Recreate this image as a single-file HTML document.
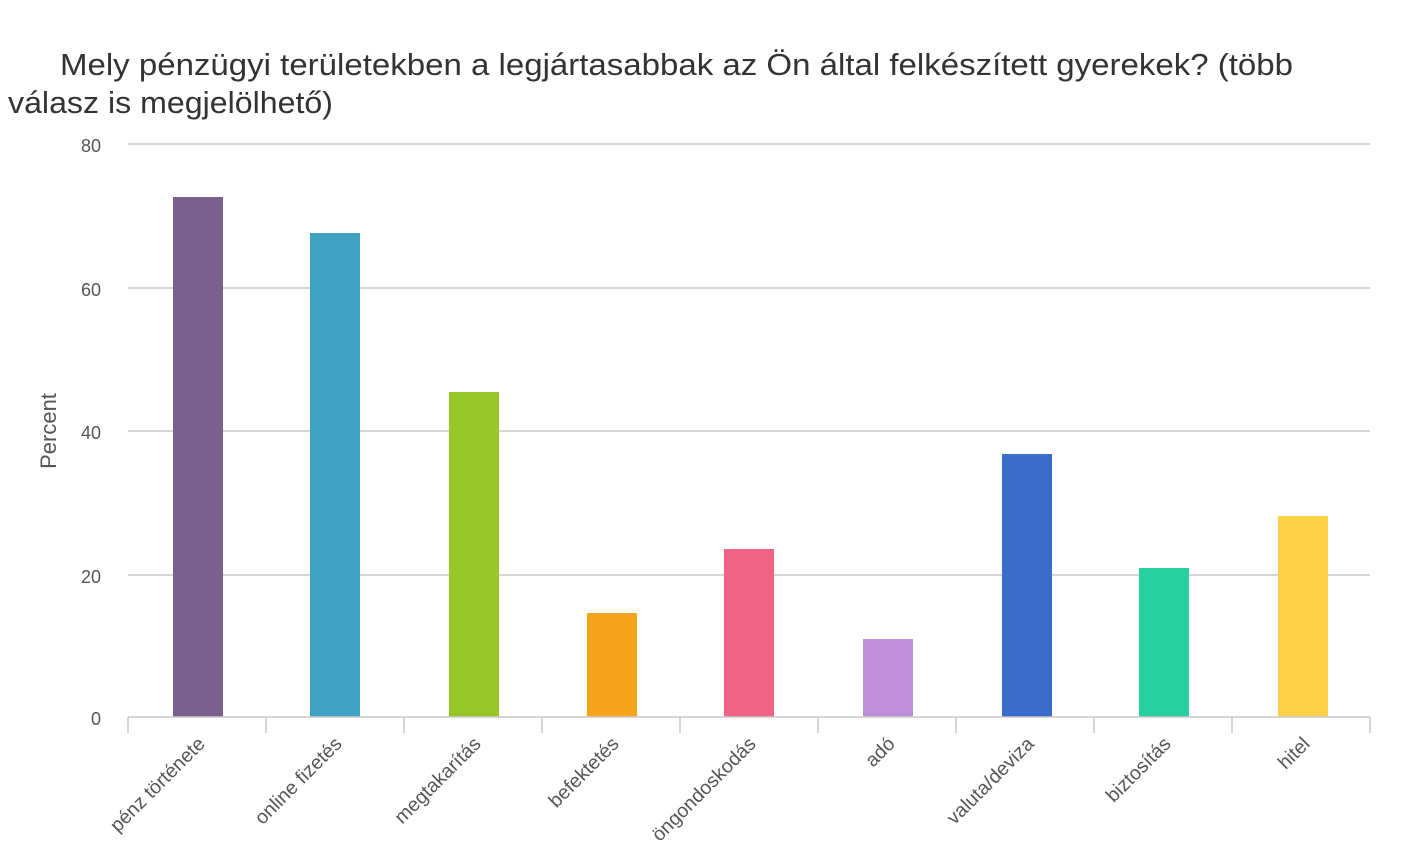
<!DOCTYPE html>
<html><head><meta charset="utf-8"><style>
html,body{margin:0;padding:0;background:#fff;width:1413px;height:849px;overflow:hidden}
svg text{font-family:"Liberation Sans",sans-serif}
</style></head><body>
<svg width="1413" height="849" xmlns="http://www.w3.org/2000/svg">
<text x="60" y="75" font-size="31" fill="#333" textLength="1233" lengthAdjust="spacingAndGlyphs">Mely pénzügyi területekben a legjártasabbak az Ön által felkészített gyerekek? (több</text>
<text x="8" y="113" font-size="31" fill="#333" textLength="325" lengthAdjust="spacingAndGlyphs">válasz is megjelölhető)</text>
<g stroke="#c8c8c8" stroke-width="1.5">
<line x1="128" y1="144" x2="1370" y2="144"/>
<line x1="128" y1="288" x2="1370" y2="288"/>
<line x1="128" y1="431" x2="1370" y2="431"/>
<line x1="128" y1="575" x2="1370" y2="575"/>
</g>
<g font-size="18" fill="#555" text-anchor="end">
<text x="101" y="152">80</text><text x="101" y="296">60</text><text x="101" y="439">40</text><text x="101" y="583">20</text><text x="101" y="725">0</text>
</g>
<text transform="translate(56,431) rotate(-90)" font-size="22" fill="#555" text-anchor="middle">Percent</text>
<rect x="173" y="197" width="50" height="520" fill="#7B5F8C"/>
<rect x="310" y="233" width="50" height="484" fill="#3FA2C2"/>
<rect x="449" y="392" width="50" height="325" fill="#96C726"/>
<rect x="587" y="613" width="50" height="104" fill="#F4A31A"/>
<rect x="724" y="549" width="50" height="168" fill="#F06384"/>
<rect x="863" y="639" width="50" height="78" fill="#BD8FD9"/>
<rect x="1002" y="454" width="50" height="263" fill="#3B6CCB"/>
<rect x="1139" y="568" width="50" height="149" fill="#2ACFA0"/>
<rect x="1278" y="516" width="50" height="201" fill="#FDD24A"/>
<g stroke="#c8c8c8" stroke-width="1.5">
<line x1="128" y1="717" x2="1370" y2="717"/>
<line x1="128" y1="717" x2="128" y2="733"/><line x1="266" y1="717" x2="266" y2="733"/><line x1="404" y1="717" x2="404" y2="733"/><line x1="542" y1="717" x2="542" y2="733"/><line x1="680" y1="717" x2="680" y2="733"/><line x1="818" y1="717" x2="818" y2="733"/><line x1="956" y1="717" x2="956" y2="733"/><line x1="1094" y1="717" x2="1094" y2="733"/><line x1="1232" y1="717" x2="1232" y2="733"/><line x1="1370" y1="717" x2="1370" y2="733"/>
</g>
<g font-size="19.5" fill="#555" text-anchor="end">
<text transform="translate(206,745) rotate(-45)">pénz története</text>
<text transform="translate(343,745) rotate(-45)">online fizetés</text>
<text transform="translate(482,745) rotate(-45)">megtakarítás</text>
<text transform="translate(620,745) rotate(-45)">befektetés</text>
<text transform="translate(757,745) rotate(-45)">öngondoskodás</text>
<text transform="translate(896,745) rotate(-45)">adó</text>
<text transform="translate(1035,745) rotate(-45)">valuta/deviza</text>
<text transform="translate(1172,745) rotate(-45)">biztosítás</text>
<text transform="translate(1311,745) rotate(-45)">hitel</text>
</g>
</svg>
</body></html>
